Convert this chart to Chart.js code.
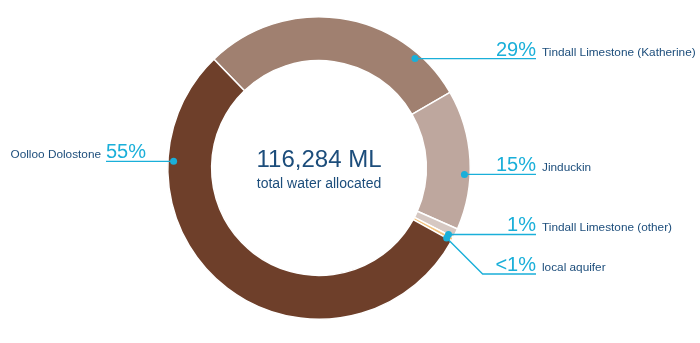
<!DOCTYPE html>
<html>
<head>
<meta charset="utf-8">
<script src="https://cdn.jsdelivr.net/npm/chart.js@4"></script>
<style>
  html, body { margin: 0; padding: 0; background: #fff; }
  #wrap { width: 700px; height: 343px; position: relative; }
</style>
</head>
<body>
<div id="wrap"><canvas id="waterChart"></canvas></div>
<script>
// data
const aquifers = ['Tindall Limestone (Katherine)', 'Jinduckin', 'Tindall Limestone (other)', 'local aquifer', 'Oolloo Dolostone'];
const shares = [29, 15, 1, 0.4, 55];
const shareLabels = ['29%', '15%', '1%', '<1%', '55%'];
const sliceColours = ['#a08070', '#bea79e', '#d6c8c2', '#f2c27e', '#6e3f2a'];
const totalText = '116,284 ML';
const totalCaption = 'total water allocated';

const FONT = '"Liberation Sans", Arial, sans-serif';
const CYAN = '#1aafd9';
const NAVY = '#1c4d7b';

// where each leader starts inside its slice, and which way it runs
const leaders = [
  { frac: 0.82, side: 'right' },
  { frac: 0.605, side: 'right' },
  { frac: 0.95, side: 'right' },
  { frac: 0.95, side: 'right', drop: 36 },
  { frac: 0.78, side: 'left' }
];

const leaderPlugin = {
  id: 'leaders',
  afterDatasetsDraw(chart) {
    const ctx = chart.ctx;
    const arcs = chart.getDatasetMeta(0).data;
    const rightEnd = 536, leftEnd = 106;
    ctx.save();
    arcs.forEach((arc, i) => {
      const cfg = leaders[i];
      const p = arc.getProps(['x', 'y', 'startAngle', 'endAngle', 'innerRadius', 'outerRadius'], true);
      const a = p.startAngle + cfg.frac * (p.endAngle - p.startAngle);
      const r = p.innerRadius + 0.87 * (p.outerRadius - p.innerRadius);
      const dx = p.x + Math.cos(a) * r;
      const dy = p.y + Math.sin(a) * r;
      let lineY = dy;
      ctx.strokeStyle = CYAN;
      ctx.lineWidth = 1.4;
      ctx.beginPath();
      ctx.moveTo(dx, dy);
      if (cfg.drop) {
        lineY = dy + cfg.drop;
        ctx.lineTo(dx + cfg.drop, lineY);
      }
      ctx.lineTo(cfg.side === 'right' ? rightEnd : leftEnd, lineY);
      ctx.stroke();
      ctx.fillStyle = CYAN;
      ctx.beginPath();
      ctx.arc(dx, dy, 3.5, 0, Math.PI * 2);
      ctx.fill();

      ctx.textBaseline = 'alphabetic';
      if (cfg.side === 'right') {
        ctx.font = '20px ' + FONT;
        ctx.fillStyle = CYAN;
        ctx.textAlign = 'right';
        ctx.fillText(shareLabels[i], rightEnd, lineY - 3);
        ctx.font = '11.8px ' + FONT;
        ctx.fillStyle = NAVY;
        ctx.textAlign = 'left';
        ctx.fillText(aquifers[i], rightEnd + 6, lineY - 3);
      } else {
        ctx.font = '20px ' + FONT;
        ctx.fillStyle = CYAN;
        ctx.textAlign = 'left';
        ctx.fillText(shareLabels[i], leftEnd, lineY - 3);
        ctx.font = '11.8px ' + FONT;
        ctx.fillStyle = NAVY;
        ctx.textAlign = 'right';
        ctx.fillText(aquifers[i], leftEnd - 5, lineY - 3);
      }
    });

    // centre total
    const c = arcs[0];
    ctx.fillStyle = NAVY;
    ctx.textAlign = 'center';
    ctx.font = '24px ' + FONT;
    ctx.fillText(totalText, c.x, c.y - 1);
    ctx.font = '14px ' + FONT;
    ctx.fillText(totalCaption, c.x, c.y + 20);
    ctx.restore();
  }
};

const ctx = document.getElementById('waterChart').getContext('2d');
const waterChart = new Chart(ctx, {
  type: 'doughnut',
  data: {
    labels: aquifers,
    datasets: [{
      data: shares,
      backgroundColor: sliceColours,
      borderColor: '#ffffff',
      borderWidth: 1.5
    }]
  },
  options: {
    responsive: true,
    maintainAspectRatio: false,
    animation: false,
    rotation: -44,
    cutout: '71%',
    layout: { padding: { top: 16, bottom: 23, left: 0, right: 62 } },
    plugins: {
      legend: { display: false },
      tooltip: { enabled: false }
    }
  },
  plugins: [leaderPlugin]
});
</script>
</body>
</html>
